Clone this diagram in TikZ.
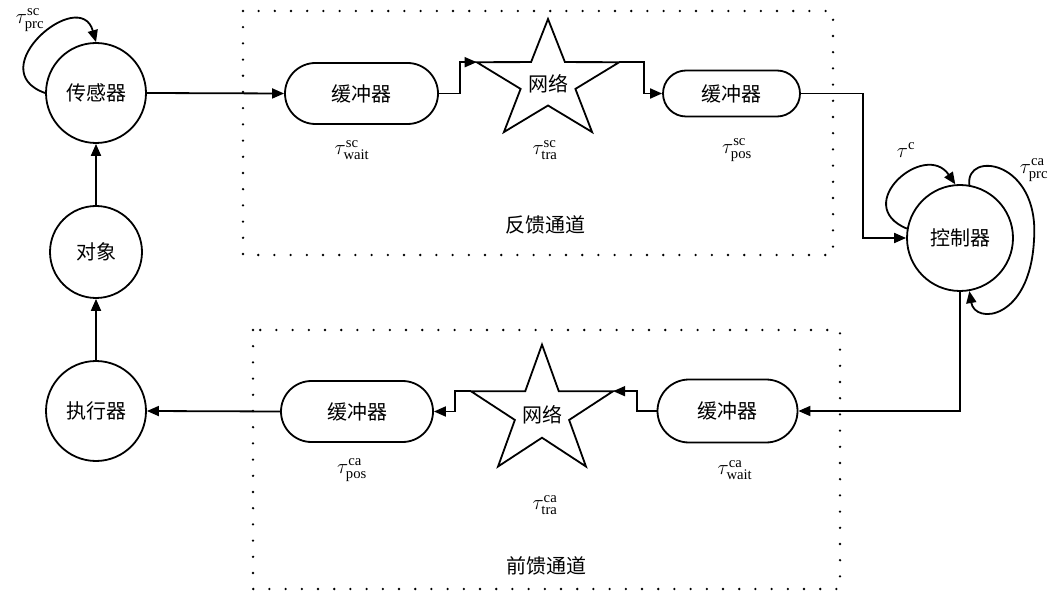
\documentclass[tikz,border=0pt]{standalone}
\usepackage{fontspec}
\setmainfont{Liberation Serif}
\newfontfamily\cjk{Noto Sans CJK SC}
\usetikzlibrary{arrows.meta,shapes.misc,calc}
\begin{document}
\begin{tikzpicture}[x=1pt,y=-1pt,
  every node/.style={font=\fontsize{20}{24}\selectfont},
  ln/.style={line width=1.8pt},
  arr/.style={ln,-{Triangle[length=12pt,width=10pt]}},
  circ/.style={circle,draw,line width=1.8pt,inner sep=0pt,font=\cjk\fontsize{20}{24}\selectfont},
  buf/.style={rounded rectangle,draw,line width=1.8pt,inner sep=0pt,font=\cjk\fontsize{20}{24}\selectfont},
  cjklbl/.style={font=\cjk\fontsize{20}{24}\selectfont,inner sep=0pt},
  tau/.style={inner sep=0pt,font=\fontsize{21}{24}\selectfont},
  dotbox/.style={line width=2.6pt,line cap=round,dash pattern=on 0pt off 16.2pt}]
\useasboundingbox (0,0) rectangle (1049,593);

% dotted channel boxes
\draw[dotbox] (243,11) rectangle (833,255);
\draw[dotbox] (253,330) rectangle (840,589);

% nodes
\node[circ,minimum size=100pt] (sens) at (96,93) {传感器};
\node[circ,minimum size=92pt] (plant) at (96,252) {对象};
\node[circ,minimum size=100pt] (act) at (96,411) {执行器};
\node[circ,minimum size=106pt] (ctrl) at (960,238) {控制器};

\node[buf,minimum width=153pt,minimum height=61pt] (bufA1) at (361.5,93.5) {缓冲器};
\node[buf,minimum width=137pt,minimum height=46pt] (bufA2) at (731.5,93.5) {缓冲器};
\node[buf,minimum width=152pt,minimum height=61pt] (bufB1) at (357,411.5) {缓冲器};
\node[buf,minimum width=140pt,minimum height=63pt] (bufB2) at (727.5,411) {缓冲器};

% stars
\begin{scope}[shift={(548,81.5)},xscale=1.2]
  \draw[ln,line join=miter] (270:62.5) -- (306:24) -- (342:62.5) -- (18:24) -- (54:62.5) -- (90:24)
     -- (126:62.5) -- (162:24) -- (198:62.5) -- (234:24) -- cycle;
  \coordinate (netAL) at (198:62.5);
  \coordinate (netAR) at (342:62.5);
\end{scope}
\node[cjklbl] (netA) at (548,84) {网络};
\begin{scope}[shift={(542,412)},xscale=1.11]
  \draw[ln,line join=miter] (270:67.4) -- (306:25.7) -- (342:67.4) -- (18:25.7) -- (54:67.4) -- (90:25.7)
     -- (126:67.4) -- (162:25.7) -- (198:67.4) -- (234:25.7) -- cycle;
  \coordinate (netBL) at (198:67.4);
  \coordinate (netBR) at (342:67.4);
\end{scope}
\node[cjklbl] (netB) at (542,415) {网络};

% channel titles
\node[cjklbl] (fb) at (545,225) {反馈通道};
\node[cjklbl] (ff) at (546,566) {前馈通道};

% delay labels
\node[tau] (t1) at (30,20) {$\tau^{\mathrm{sc}}_{\mathrm{prc}}$};
\node[tau] (t2) at (352,150) {$\tau^{\mathrm{sc}}_{\mathrm{wait}}$};
\node[tau] (t3) at (545,150) {$\tau^{\mathrm{sc}}_{\mathrm{tra}}$};
\node[tau] (t4) at (737,150) {$\tau^{\mathrm{sc}}_{\mathrm{pos}}$};
\node[tau] (t5) at (906,150) {$\tau^{\mathrm{c}}$};
\node[tau] (t6) at (1034,170) {$\tau^{\mathrm{ca}}_{\mathrm{prc}}$};
\node[tau] (t7) at (352,470) {$\tau^{\mathrm{ca}}_{\mathrm{pos}}$};
\node[tau] (t8) at (545,505) {$\tau^{\mathrm{ca}}_{\mathrm{tra}}$};
\node[tau] (t9) at (735,470) {$\tau^{\mathrm{ca}}_{\mathrm{wait}}$};

% connectors: feedback channel
\draw[arr] (sens.east) -- (bufA1.west);
\draw[arr] (bufA1.east) -- ++(21,0) |- (netAL);
\draw[arr] (netAR) -- ++(25,0) |- (bufA2.west);
\draw[arr] (bufA2.east) -- ++(62,0) |- (ctrl.west);

% connectors: forward channel
\draw[arr] (ctrl.south) |- (bufB2.east);
\draw[arr] (bufB2.west) -- ++(-20,0) |- (netBR);
\draw[arr] (netBL) -- ++(-16,0) |- (bufB1.east);
\draw[arr] (bufB1.west) -- (act.east);

% plant side
\draw[arr] (act.north) -- (plant.south);
\draw[arr] (plant.north) -- (sens.south);

% self loops
\draw[arr] (sens.west) .. controls (-20,70) and (80,-15) .. (sens.north);
\draw[arr] (ctrl.170) .. controls (850,205) and (925,140) .. (ctrl.95);
\draw[arr] (ctrl.80) .. controls (965,150) and (1040,160) .. (1034,240)
   .. controls (1030,320) and (975,325) .. (ctrl.-80);
\end{tikzpicture}
\end{document}
